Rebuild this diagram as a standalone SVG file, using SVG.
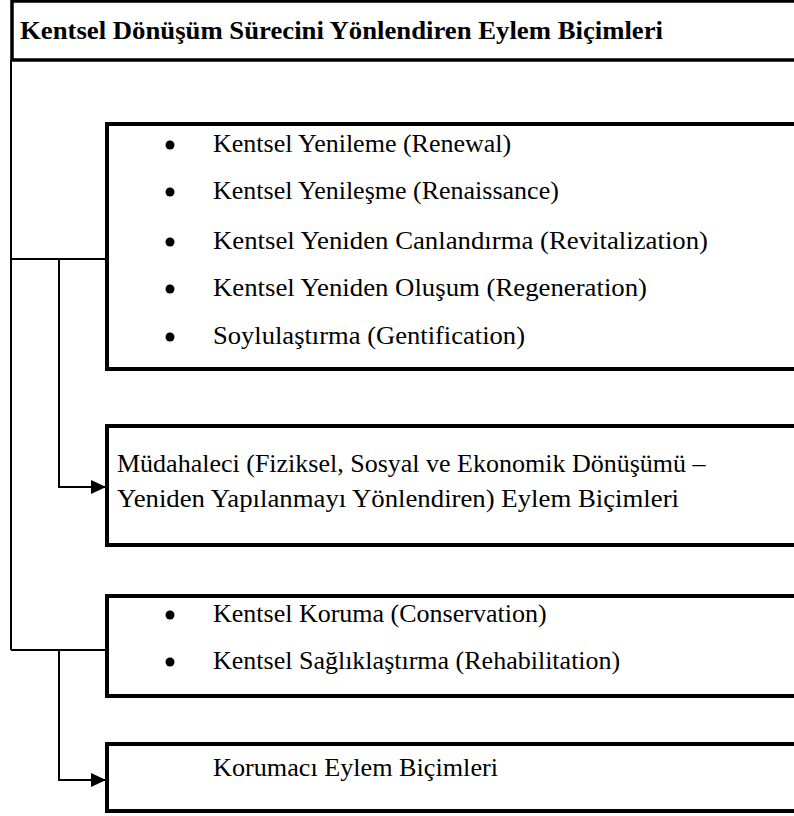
<svg xmlns="http://www.w3.org/2000/svg" width="794" height="816" viewBox="0 0 794 816">
<style>
.box{fill:#fff;stroke:#000;stroke-width:4}
.hd{font-family:"Liberation Serif","Times New Roman","DejaVu Serif",serif;font-size:26px;font-weight:bold;fill:#000}
.tx{font-family:"Liberation Serif","Times New Roman","DejaVu Serif",serif;font-size:26px;fill:#000}
.ln{fill:none;stroke:#000;stroke-width:2}
</style>
<defs>
<marker id="arr" markerUnits="userSpaceOnUse" markerWidth="16" markerHeight="16" viewBox="0 0 16 16" refX="15" refY="8" orient="auto">
<path d="M0,1 L15,8 L0,15 Z" fill="#000"/>
</marker>
</defs>
<rect width="794" height="816" fill="#fff"/>
<g id="connectors">
<path class="ln" d="M11,60 V650"/>
<path class="ln" d="M11,259 H107"/>
<path class="ln" d="M59,259 V487 H106" marker-end="url(#arr)"/>
<path class="ln" d="M11,650 H107"/>
<path class="ln" d="M59,650 V780 H106" marker-end="url(#arr)"/>
</g>
<g id="header">
<rect class="box" x="12" y="1" width="800" height="59" style="stroke-width:3.5"/>
<text class="hd" x="20" y="39" textLength="643" lengthAdjust="spacingAndGlyphs">Kentsel Dönüşüm Sürecini Yönlendiren Eylem Biçimleri</text>
</g>
<g id="node-renewal">
<rect class="box" x="107" y="124" width="700" height="245"/>
<circle cx="170" cy="145" r="4.5"/>
<text class="tx" x="213" y="152">Kentsel Yenileme (Renewal)</text>
<circle cx="170" cy="192" r="4.5"/>
<text class="tx" x="213" y="199">Kentsel Yenileşme (Renaissance)</text>
<circle cx="170" cy="242" r="4.5"/>
<text class="tx" x="213" y="249" textLength="495" lengthAdjust="spacingAndGlyphs">Kentsel Yeniden Canlandırma (Revitalization)</text>
<circle cx="170" cy="289" r="4.5"/>
<text class="tx" x="213" y="296" textLength="434" lengthAdjust="spacingAndGlyphs">Kentsel Yeniden Oluşum (Regeneration)</text>
<circle cx="170" cy="337" r="4.5"/>
<text class="tx" x="213" y="344" textLength="312" lengthAdjust="spacingAndGlyphs">Soylulaştırma (Gentification)</text>
</g>
<g id="node-mudahaleci">
<rect class="box" x="107" y="426" width="700" height="119"/>
<text class="tx" x="117" y="472">Müdahaleci (Fiziksel, Sosyal ve Ekonomik Dönüşümü –</text>
<text class="tx" x="117" y="507" textLength="562" lengthAdjust="spacingAndGlyphs">Yeniden Yapılanmayı Yönlendiren) Eylem Biçimleri</text>
</g>
<g id="node-koruma">
<rect class="box" x="107" y="596" width="700" height="100"/>
<circle cx="170" cy="615" r="4.5"/>
<text class="tx" x="213" y="622">Kentsel Koruma (Conservation)</text>
<circle cx="170" cy="662" r="4.5"/>
<text class="tx" x="213" y="669">Kentsel Sağlıklaştırma (Rehabilitation)</text>
</g>
<g id="node-korumaci">
<rect class="box" x="107" y="744" width="700" height="67"/>
<text class="tx" x="213" y="776" textLength="285" lengthAdjust="spacingAndGlyphs">Korumacı Eylem Biçimleri</text>
</g>
</svg>
